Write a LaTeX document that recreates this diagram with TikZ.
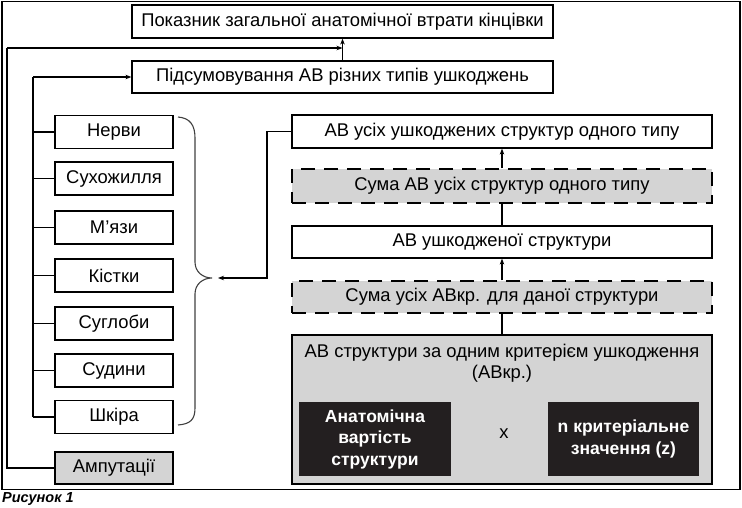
\documentclass[tikz,border=0pt]{standalone}
\usepackage{fontspec}
\setmainfont{Liberation Sans}
\usetikzlibrary{arrows.meta}
\definecolor{boxgray}{HTML}{D4D4D4}
\definecolor{boxblack}{HTML}{231F20}
\begin{document}
\begin{tikzpicture}[x=1pt,y=-1pt,
  every node/.style={font=\fontsize{18.4}{20.5}\selectfont, inner sep=0pt, align=center},
  wbox/.style={draw, line width=1.2pt, rectangle, fill=white},
  dbox/.style={draw, line width=1.2pt, rectangle, fill=boxgray, dash pattern=on 14pt off 9pt},
  gbox/.style={draw, line width=1.2pt, rectangle, fill=boxgray},
  bbox/.style={rectangle, fill=boxblack, text=white, font=\fontsize{17.5}{21.5}\selectfont\bfseries},
  conn/.style={line width=1.1pt},
  arr/.style={line width=1.1pt, -{Stealth[length=6pt,width=4.5pt]}}
]
\useasboundingbox (0,0) rectangle (742,508);
\draw[line width=1.4pt] (2,1.5) rectangle (740,489.5);

% top boxes
\node[wbox, minimum width=421pt, minimum height=33pt] (b1) at (342.5,21.5) {Показник загальної анатомічної втрати кінцівки};
\node[wbox, minimum width=421pt, minimum height=32pt] (b2) at (342.5,77) {Підсумовування АВ різних типів ушкоджень};

% left boxes
\foreach \n/\y/\t in {ner/132/Нерви, suh/178.5/Сухожилля, mya/227.5/М’язи, kis/275.5/Кістки, sug/323.5/Суглоби, sud/370.5/Судини, shk/417/Шкіра}{
  \node[wbox, minimum width=118pt, minimum height=33pt] (\n) at (114,\y) {\t};
}
\node[gbox, minimum width=118pt, minimum height=32pt] (amp) at (114,468) {Ампутації};

% right column
\node[wbox, minimum width=420pt, minimum height=33pt] (r1) at (502,131.5) {АВ усіх ушкоджених структур одного типу};
\node[dbox, minimum width=420pt, minimum height=34pt] (r2) at (502,186) {Сума АВ усіх структур одного типу};
\node[wbox, minimum width=420pt, minimum height=32pt] (r3) at (502,242) {АВ ушкодженої структури};
\node[dbox, minimum width=420pt, minimum height=32pt] (r4) at (502,297) {Сума усіх АВкр. для даної структури};
\node[gbox, minimum width=420pt, minimum height=149pt] (big) at (502,409.5) {};
\node (bigt) at (502,363) {АВ структури за одним критерієм ушкодження\\(АВкр.)};
\node[bbox, minimum width=152pt, minimum height=74pt] (av) at (375,439) {Анатомічна\\вартість\\структури};
\node[bbox, minimum width=151pt, minimum height=74pt] (nz) at (623.5,439) {n критеріальне\\значення (z)};
\node (x) at (504,434) {x};

% caption
\node[anchor=west, font=\fontsize{14.5}{16}\selectfont\bfseries\itshape] (cap) at (2,499) {Рисунок 1};

% right column connectors
\draw[arr] (r2.north) -- (r1.south);
\draw[conn] (r3.north) -- (r2.south);
\draw[arr] (r4.north) -- (r3.south);
\draw[conn] (big.north) -- (r4.south);

% brace
\coordinate (brTop) at (178,117);
\coordinate (brTip) at (212,278);
\coordinate (brBot) at (178,425);
\draw[line width=1.1pt, black!75] (brTop) .. controls (190,118) and (195,125) .. (195,138)
  -- (195,262) .. controls (195,272) and (203,278) .. (brTip)
  .. controls (203,278) and (195,284) .. (195,294)
  -- (195,408) .. controls (195,420) and (190,424) .. (brBot);

% arrow into brace
\coordinate (rA) at (267,131.5);
\coordinate (rB) at (267,278);
\coordinate (rT) at (218,278);
\draw[arr] (r1.west) -- (rA) -- (rB) -- (rT);

% left bus to b2
\coordinate (busTop) at (33,77);
\coordinate (busBot) at (33,417);
\draw[conn] (busBot) -- (busTop);
\draw[arr] (busTop) -- (b2.west);
\foreach \n in {ner,suh,mya,kis,sug,sud,shk}{
  \draw[conn] (\n.west) -- (\n.west -| busTop);
}

% amputation path to b1
\coordinate (aA) at (7,468);
\coordinate (aB) at (7,48);
\coordinate (aJ) at (342.5,48);
\draw[conn] (b2.north) -- (aJ);
\draw[arr] (aJ) -- (b1.south);
\draw[conn] (amp.west) -- (aA) -- (aB);
\draw[arr] (aB) -- (aJ);
\end{tikzpicture}
\end{document}
